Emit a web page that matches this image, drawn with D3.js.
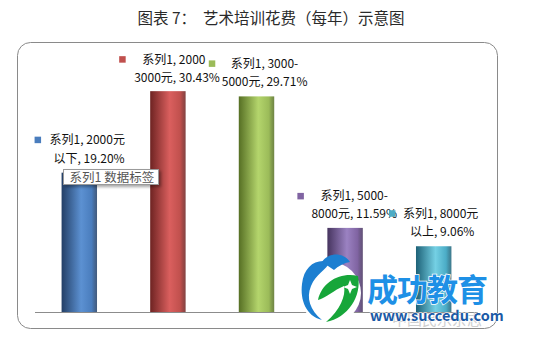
<!DOCTYPE html>
<html><head><meta charset="utf-8">
<script src="https://cdn.jsdelivr.net/npm/d3@7"></script>
<style>body{margin:0;background:#fff}svg{display:block}text{font-family:"Noto Sans CJK SC","Microsoft YaHei",sans-serif}</style>
</head><body><svg id="c" width="534" height="339"></svg>
<script>
const title = "图表 7：  艺术培训花费（每年）示意图";
const categories = ["2000元以下","2000-3000元","3000-5000元","5000-8000元","8000元以上"];
const values = [19.20, 30.43, 29.71, 11.59, 9.06];
const labelLine1 = ["系列1, 2000元","系列1, 2000","系列1, 3000-","系列1, 5000-","系列1, 8000元"];
const labelLine2 = ["以下, 19.20%","3000元, 30.43%","5000元, 29.71%","8000元, 11.59%","以上, 9.06%"];
const colors = [
  ["#233f66","#5c91d2","#4a7dbd"],
  ["#6e2322","#da5f5e","#c0504d"],
  ["#566f24","#b4d56c","#9bbb59"],
  ["#46345f","#9b82c2","#8064a2"],
  ["#1d6177","#74d0e4","#4bacc6"]
];

const svg = d3.select("#c");
const defs = svg.append("defs");
colors.forEach((c,i)=>{
  const g = defs.append("linearGradient").attr("id","g"+i).attr("x1","0").attr("x2","1").attr("y1","0").attr("y2","0");
  g.append("stop").attr("offset","0").attr("stop-color",c[0]);
  g.append("stop").attr("offset","0.55").attr("stop-color",c[1]);
  g.append("stop").attr("offset","0.85").attr("stop-color",c[2]);
  g.append("stop").attr("offset","1").attr("stop-color",c[0]).attr("stop-opacity",0.85);
});
const sh = defs.append("filter").attr("id","sh").attr("x","-20%").attr("y","-20%").attr("width","150%").attr("height","170%");
sh.append("feDropShadow").attr("dx",2).attr("dy",2).attr("stdDeviation",1.5).attr("flood-color","#000").attr("flood-opacity",0.35);

// title
svg.append("text").attr("x",271).attr("y",24).attr("text-anchor","middle")
  .attr("font-size",15.5).attr("fill","#2a2a2a").attr("xml:space","preserve").text(title);

// frame
svg.append("rect").attr("x",17.5).attr("y",42.5).attr("width",480).attr("height",286)
  .attr("rx",13).attr("fill","#fff").attr("stroke","#8a8a8a").attr("stroke-width",1);

const x = d3.scaleBand().domain(categories).range([35,478]).paddingInner(0.6).paddingOuter(0.3);
const y = d3.scaleLinear().domain([0,35]).range([312,58]);

// axis baseline
svg.append("line").attr("x1",35).attr("x2",478).attr("y1",312.5).attr("y2",312.5).attr("stroke","#8c8c8c");

svg.selectAll("rect.bar").data(values).enter().append("rect").attr("class","bar")
  .attr("x",(d,i)=>x(categories[i])).attr("width",x.bandwidth())
  .attr("y",d=>y(d)).attr("height",d=>y(0)-y(d))
  .attr("fill",(d,i)=>`url(#g${i})`);

// data labels (offsets relative to each bar's top-left)
const lab = [
  {sq:[-27,-36], l1:[-12,-29], l2:[-8,-10]},
  {sq:[-31,-35], l1:[-8,-27], l2:[-16,-9]},
  {sq:[-30,-36], l1:[-8,-28], l2:[-17,-10]},
  {sq:[-30,-35], l1:[-7,-28], l2:[-16,-10]},
  {sq:[-27,-36], l1:[-13,-28], l2:[-6,-10]}
];
const labels = svg.append("g");
values.forEach((v,i)=>{
  const bx = x(categories[i]), by = y(v), L = lab[i];
  labels.append("text").attr("x",bx+L.l1[0]).attr("y",by+L.l1[1]).attr("font-size",12).attr("fill","#111").text(labelLine1[i]);
  labels.append("text").attr("x",bx+L.l2[0]).attr("y",by+L.l2[1]).attr("font-size",12).attr("fill","#111").text(labelLine2[i]);
});
values.forEach((v,i)=>{
  const bx = x(categories[i]), by = y(v), L = lab[i];
  labels.append("rect").attr("x",bx+L.sq[0]).attr("y",by+L.sq[1]).attr("width",6.5).attr("height",6.5).attr("fill",colors[i][2]);
});

// tooltip
const tip = svg.append("g").attr("transform","translate(63.5,169.5)");
tip.append("rect").attr("width",95).attr("height",15).attr("fill","#fff").attr("stroke","#9a9a9a").attr("filter","url(#sh)");
tip.append("text").attr("x",6).attr("y",12).attr("font-size",12.5).attr("fill","#555").text("系列1 数据标签");

// watermark
const wm = svg.append("g");
wm.append("text").attr("x",392).attr("y",325).attr("font-size",15).attr("fill","#cfcfcf").text("中国民乐杂志");
wm.append("circle").attr("cx",330).attr("cy",293).attr("r",31).attr("fill","#fff");
wm.append("path").attr("d","M302,284 C304,266 316,258 330,262 C326,270 316,274 311,286 C306,298 310,310 322,320 C306,316 300,300 302,284 Z").attr("fill","#1c7fd1");
wm.append("path").attr("d","M318,300 C322,282 340,272 358,276 C362,296 348,318 326,322 C340,310 346,296 344,286 C334,290 326,298 318,300 Z").attr("fill","#17a63a");
wm.append("path").attr("d","M322,262 C328,252 344,252 350,262 C344,263 338,266 334,270 Z").attr("fill","#1c7fd1");
wm.append("path").attr("d","M350,280 l2,5 l5,2 l-5,2 l-2,5 l-2,-5 l-5,-2 l5,-2 Z").attr("fill","#fff");
wm.append("text").attr("x",367).attr("y",301).attr("font-size",31).attr("font-weight","bold")
  .attr("fill","#1e90e6").attr("stroke","#fff").attr("stroke-width",1.5).attr("paint-order","stroke").attr("letter-spacing",-1).text("成功教育");
wm.append("text").attr("x",370).attr("y",321).attr("font-size",14.5).attr("font-weight","bold")
  .attr("font-family","DejaVu Sans, sans-serif").attr("fill","#1b5aa6").attr("stroke","#fff").attr("stroke-width",1).attr("paint-order","stroke").text("www.succedu.com");
</script></body></html>
